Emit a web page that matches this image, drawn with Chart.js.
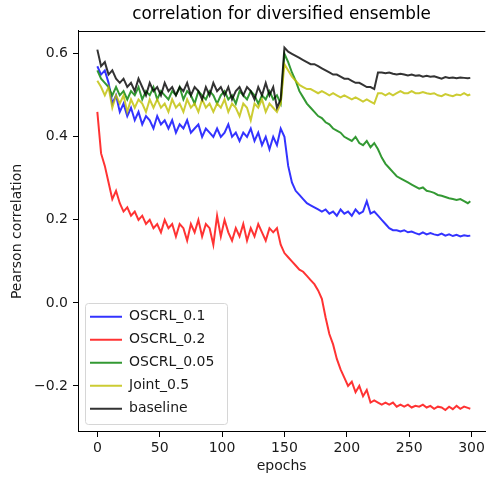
<!DOCTYPE html>
<html>
<head>
<meta charset="utf-8">
<script src="https://cdn.jsdelivr.net/npm/chart.js@4"></script>
<style>
html,body{margin:0;padding:0;background:#ffffff;}
#wrap{width:488px;height:479px;}
</style>
</head>
<body>
<div id="wrap"><canvas id="c" width="488" height="479"></canvas></div>
<script>
// ---------------- DATA ----------------
const epochs = [0,3,6,9,12,15,18,21,24,27,30,33,36,39,42,45,48,51,54,57,60,63,66,69,72,75,78,81,84,87,90,93,96,99,102,105,108,111,114,117,120,123,126,129,132,135,138,141,144,147,150,153,156,159,162,165,168,171,174,177,180,183,186,189,192,195,198,201,204,207,210,213,216,219,222,225,228,231,234,237,240,243,246,249,252,255,258,261,264,267,270,273,276,279,282,285,288,291,294,297,299];

const oscrl01 = [0.57,0.55,0.56,0.53,0.48,0.50,0.46,0.48,0.45,0.47,0.44,0.46,0.43,0.45,0.44,0.42,0.45,0.43,0.44,0.42,0.44,0.41,0.43,0.42,0.44,0.41,0.42,0.43,0.40,0.42,0.41,0.40,0.42,0.40,0.41,0.43,0.40,0.41,0.39,0.41,0.40,0.42,0.39,0.41,0.38,0.40,0.37,0.40,0.38,0.42,0.40,0.33,0.29,0.27,0.26,0.25,0.24,0.235,0.23,0.225,0.22,0.225,0.215,0.22,0.21,0.225,0.215,0.22,0.21,0.225,0.215,0.22,0.245,0.215,0.22,0.21,0.20,0.19,0.18,0.175,0.175,0.172,0.175,0.17,0.172,0.168,0.165,0.17,0.165,0.168,0.165,0.163,0.167,0.162,0.165,0.161,0.164,0.16,0.163,0.161,0.162];

const oscrl02 = [0.46,0.36,0.33,0.29,0.25,0.27,0.24,0.22,0.23,0.21,0.22,0.20,0.21,0.19,0.20,0.18,0.19,0.17,0.20,0.18,0.19,0.16,0.19,0.18,0.15,0.19,0.17,0.20,0.16,0.19,0.18,0.14,0.21,0.16,0.20,0.17,0.15,0.18,0.16,0.19,0.15,0.18,0.16,0.19,0.17,0.15,0.18,0.17,0.18,0.14,0.12,0.11,0.10,0.09,0.08,0.075,0.065,0.055,0.045,0.03,0.01,-0.035,-0.075,-0.10,-0.135,-0.16,-0.18,-0.20,-0.19,-0.215,-0.20,-0.225,-0.21,-0.24,-0.235,-0.24,-0.245,-0.24,-0.245,-0.24,-0.25,-0.245,-0.25,-0.245,-0.252,-0.248,-0.25,-0.245,-0.252,-0.248,-0.255,-0.25,-0.252,-0.258,-0.25,-0.256,-0.248,-0.255,-0.25,-0.253,-0.255];

const oscrl005 = [0.56,0.54,0.53,0.52,0.50,0.52,0.50,0.51,0.49,0.51,0.50,0.52,0.49,0.51,0.50,0.52,0.49,0.51,0.50,0.49,0.51,0.50,0.52,0.49,0.51,0.50,0.48,0.51,0.50,0.49,0.51,0.50,0.48,0.50,0.51,0.49,0.50,0.48,0.51,0.50,0.49,0.51,0.50,0.48,0.50,0.49,0.51,0.49,0.50,0.48,0.60,0.58,0.555,0.535,0.51,0.495,0.48,0.47,0.46,0.45,0.445,0.435,0.43,0.42,0.415,0.41,0.40,0.395,0.39,0.40,0.385,0.38,0.39,0.375,0.385,0.37,0.35,0.335,0.325,0.315,0.305,0.30,0.295,0.29,0.285,0.28,0.275,0.278,0.27,0.268,0.265,0.26,0.258,0.255,0.252,0.25,0.248,0.25,0.245,0.24,0.245];

const joint05 = [0.535,0.52,0.50,0.52,0.47,0.50,0.48,0.50,0.46,0.49,0.47,0.49,0.48,0.46,0.49,0.47,0.49,0.47,0.48,0.46,0.49,0.47,0.48,0.46,0.49,0.47,0.48,0.46,0.49,0.47,0.48,0.46,0.48,0.47,0.49,0.46,0.48,0.47,0.45,0.48,0.47,0.44,0.48,0.47,0.49,0.46,0.48,0.47,0.46,0.48,0.575,0.56,0.545,0.535,0.525,0.52,0.515,0.515,0.51,0.505,0.51,0.505,0.50,0.505,0.50,0.495,0.50,0.495,0.49,0.495,0.49,0.485,0.49,0.485,0.48,0.505,0.505,0.50,0.505,0.50,0.505,0.51,0.505,0.505,0.51,0.505,0.505,0.508,0.505,0.503,0.505,0.50,0.498,0.503,0.50,0.498,0.502,0.50,0.505,0.50,0.502];

const baseline = [0.61,0.57,0.58,0.55,0.56,0.54,0.53,0.54,0.52,0.53,0.51,0.54,0.52,0.50,0.53,0.51,0.52,0.50,0.53,0.51,0.52,0.50,0.52,0.51,0.53,0.50,0.52,0.51,0.49,0.52,0.50,0.53,0.51,0.52,0.50,0.52,0.49,0.51,0.52,0.50,0.52,0.51,0.49,0.52,0.50,0.53,0.50,0.52,0.47,0.49,0.615,0.605,0.60,0.595,0.59,0.585,0.58,0.575,0.575,0.57,0.565,0.56,0.555,0.55,0.55,0.545,0.54,0.54,0.535,0.53,0.53,0.525,0.52,0.52,0.515,0.555,0.555,0.553,0.555,0.552,0.55,0.552,0.55,0.548,0.55,0.547,0.548,0.545,0.547,0.545,0.546,0.543,0.54,0.544,0.542,0.543,0.541,0.543,0.542,0.541,0.542];

const seriesNames = ['OSCRL_0.1','OSCRL_0.2','OSCRL_0.05','Joint_0.5','baseline'];
const xTicks = [0,50,100,150,200,250,300];
const yTicks = [-0.2,0.0,0.2,0.4,0.6];

// ---------------- STYLE ----------------
const colors = ['rgba(0,0,255,0.8)','rgba(255,0,0,0.8)','rgba(0,128,0,0.8)','rgba(191,191,0,0.8)','rgba(0,0,0,0.8)'];
const FONT = 'DejaVu Sans';
const TXT = '#1a1a1a';

function pts(vals){ return epochs.map((e,i)=>({x:e, y:vals[i]})); }
const allSeries = [oscrl01, oscrl02, oscrl005, joint05, baseline];

const datasets = allSeries.map((s,i)=>({
  label: seriesNames[i],
  data: pts(s),
  borderColor: colors[i],
  backgroundColor: colors[i],
  borderWidth: 2,
  pointRadius: 0,
  tension: 0,
  fill: false,
  order: 5 - i
}));

const framePlugin = {
  id: 'frame',
  afterLayout(chart){
    const ca = chart.chartArea;
    const lg = chart.legend;
    if (lg){
      lg.left = ca.left + 3;
      lg.top = ca.bottom - 131.3;
      lg.bottom = lg.top + 130;
    }
  },
  beforeDraw(chart){
    const ca = chart.chartArea;
    const ctx = chart.ctx;
    ctx.save();
    const x = ca.left + 7.5, y = ca.bottom - 128.5, w = 142, h = 121, r = 3;
    ctx.beginPath();
    ctx.moveTo(x+r,y);
    ctx.lineTo(x+w-r,y); ctx.quadraticCurveTo(x+w,y,x+w,y+r);
    ctx.lineTo(x+w,y+h-r); ctx.quadraticCurveTo(x+w,y+h,x+w-r,y+h);
    ctx.lineTo(x+r,y+h); ctx.quadraticCurveTo(x,y+h,x,y+h-r);
    ctx.lineTo(x,y+r); ctx.quadraticCurveTo(x,y,x+r,y);
    ctx.closePath();
    ctx.fillStyle = 'rgba(255,255,255,0.8)';
    ctx.fill();
    ctx.strokeStyle = '#d6d6d6';
    ctx.lineWidth = 1;
    ctx.stroke();
    ctx.restore();
  },
  afterDraw(chart){
    const ca = chart.chartArea;
    const ctx = chart.ctx;
    ctx.save();
    ctx.strokeStyle = '#000';
    ctx.lineWidth = 1;
    ctx.beginPath();
    ctx.moveTo(ca.left, Math.round(ca.top)+0.5);
    ctx.lineTo(ca.right, Math.round(ca.top)+0.5);
    ctx.stroke();
    ctx.restore();
  }
};

new Chart(document.getElementById('c'), {
  type: 'line',
  data: { datasets },
  options: {
    responsive: false,
    animation: false,
    devicePixelRatio: 1,
    layout: { padding: 0 },
    plugins: {
      title: {
        display: true,
        text: 'correlation for diversified ensemble',
        font: { family: FONT, size: 16.8, weight: 'normal' },
        color: '#000',
        padding: { top: 4.9, bottom: 5.9 },
        fullSize: false
      },
      legend: {
        position: 'chartArea',
        align: 'start',
        labels: {
          usePointStyle: true,
          pointStyle: 'line',
          pointStyleWidth: 32,
          boxHeight: 14,
          padding: 9,
          color: TXT,
          font: { family: FONT, size: 14 },
          sort: (a, b) => a.datasetIndex - b.datasetIndex
        }
      },
      tooltip: { enabled: false }
    },
    scales: {
      x: {
        type: 'linear',
        min: -15.5,
        max: 311,
        afterBuildTicks: s => { s.ticks = xTicks.map(v => ({ value: v })); },
        afterFit: s => { s.height = 47; },
        ticks: { color: TXT, font: { family: FONT, size: 14 }, padding: 3, maxRotation: 0, autoSkip: false },
        grid: { drawOnChartArea: false, drawTicks: true, tickLength: 5, tickColor: '#000', tickWidth: 1 },
        border: { display: true, color: '#000', width: 1 },
        title: { display: true, text: 'epochs', color: TXT, font: { family: FONT, size: 14 }, padding: { top: 0, bottom: 4.6 } }
      },
      y: {
        type: 'linear',
        min: -0.311,
        max: 0.655,
        afterBuildTicks: s => { s.ticks = yTicks.map(v => ({ value: v })); },
        afterFit: s => { s.width = 78; },
        ticks: {
          color: TXT, font: { family: FONT, size: 14 }, padding: 5,
          callback: v => (v < 0 ? '\u2212' + Math.abs(v).toFixed(1) : Math.abs(v).toFixed(1))
        },
        grid: { drawOnChartArea: false, drawTicks: true, tickLength: 5, tickColor: '#000', tickWidth: 1 },
        border: { display: true, color: '#000', width: 1 },
        title: { display: true, text: 'Pearson correlation', color: TXT, font: { family: FONT, size: 14 }, padding: { top: 8.6, bottom: 0 } }
      }
    }
  },
  plugins: [framePlugin]
});
</script>
</body>
</html>
